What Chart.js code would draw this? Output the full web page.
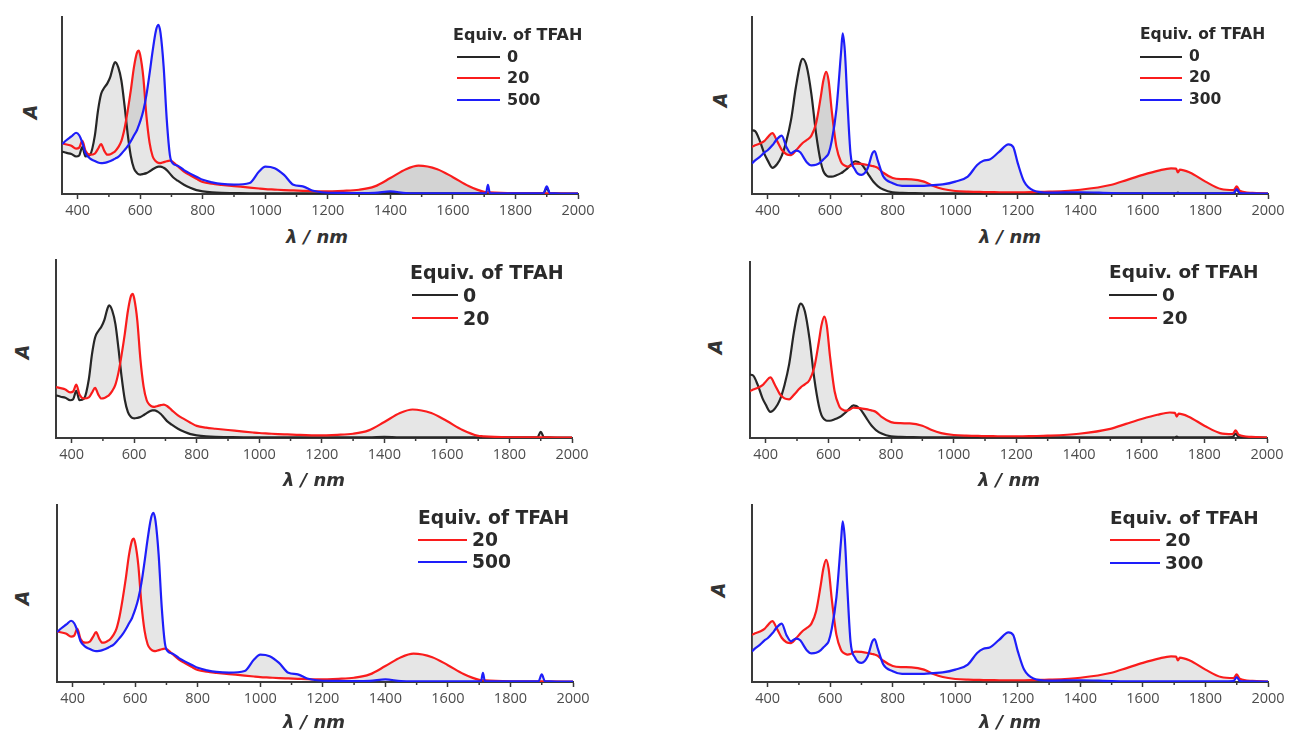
<!DOCTYPE html>
<html><head><meta charset="utf-8">
<script src="https://cdn.jsdelivr.net/npm/chart.js@4.4.1/dist/chart.umd.min.js"></script>
<style>
html,body{margin:0;padding:0;background:#fff;}
body{width:1291px;height:733px;overflow:hidden;position:relative;}
canvas{position:absolute;}
.t{position:absolute;white-space:nowrap;line-height:1;color:#2a2a2a;}
.leg{font-family:"DejaVu Sans",sans-serif;font-weight:bold;transform:translateY(-50%);}
.ax{font-family:"DejaVu Sans",sans-serif;font-weight:bold;font-style:italic;color:#333;}
.ln{position:absolute;height:2px;}
</style></head><body>
<script>
// ---------------- data ----------------
const wlA = [350,365,380,395,405,415,425,440,455,465,475,485,495,505,515,520,530,540,550,560,570,580,590,595,600,610,620,630,640,650,658,665,675,685,695,705,720,740,760,780,800,830,860,900,950,980,1000,1030,1060,1090,1120,1150,1180,1250,1300,1350,1400,1450,1490,1550,1600,1650,1700,1706,1712,1718,1800,1890,1900,1910,2000];
const absA_0 = [.240,.232,.226,.212,.218,.265,.212,.222,.33,.47,.565,.60,.625,.665,.73,.745,.715,.64,.50,.34,.215,.145,.118,.112,.11,.113,.118,.128,.14,.15,.155,.155,.148,.135,.115,.095,.075,.052,.035,.022,.015,.009,.006,.005,.004,.004,.004,.004,.004,.004,.004,.004,.004,.004,.004,.004,.006,.004,.004,.004,.004,.004,.004,.004,.006,.004,.004,.005,.035,.005,.002];
const absA_20 = [.286,.28,.272,.256,.262,.30,.245,.222,.228,.255,.282,.245,.222,.225,.235,.242,.265,.30,.37,.47,.585,.715,.80,.81,.785,.66,.44,.29,.212,.185,.176,.175,.18,.185,.188,.18,.157,.127,.106,.086,.068,.058,.052,.045,.036,.031,.028,.025,.022,.02,.018,.016,.015,.018,.024,.043,.09,.14,.16,.14,.095,.045,.012,.011,.01,.009,.004,.003,.003,.003,.002];
const absA_500 = [.282,.305,.325,.346,.332,.29,.232,.20,.186,.178,.174,.176,.18,.186,.195,.20,.21,.228,.248,.27,.298,.33,.362,.385,.41,.47,.56,.68,.81,.92,.955,.91,.72,.42,.22,.172,.16,.135,.115,.098,.08,.066,.057,.053,.062,.127,.155,.146,.108,.052,.043,.02,.01,.006,.005,.006,.015,.005,.004,.004,.004,.004,.004,.005,.052,.005,.003,.005,.043,.005,.002];

const wlB = [350,360,375,390,400,415,430,445,460,475,490,505,512,525,540,555,570,578,587,595,605,620,635,640,647,655,665,680,700,720,735,742,752,770,800,830,860,900,930,960,1000,1040,1070,1090,1110,1140,1170,1185,1200,1220,1250,1300,1400,1500,1550,1600,1650,1690,1706,1712,1718,1750,1800,1850,1890,1900,1910,1950,2000];
const absB_0 = [.36,.355,.30,.225,.19,.148,.168,.215,.30,.42,.60,.74,.764,.72,.563,.34,.18,.13,.106,.098,.098,.106,.118,.123,.133,.145,.163,.185,.168,.117,.077,.062,.045,.025,.009,.006,.005,.004,.004,.004,.004,.004,.004,.004,.004,.004,.004,.004,.004,.004,.004,.004,.004,.004,.004,.004,.004,.004,.004,.008,.004,.004,.004,.004,.005,.025,.005,.003,.002];
const absB_20 = [.266,.275,.285,.30,.32,.344,.30,.25,.225,.22,.245,.275,.288,.305,.33,.40,.55,.64,.69,.64,.47,.266,.18,.168,.16,.155,.158,.172,.17,.164,.158,.155,.148,.12,.09,.084,.083,.07,.045,.028,.017,.013,.012,.011,.011,.01,.01,.01,.01,.01,.011,.013,.024,.052,.08,.108,.132,.145,.143,.122,.138,.121,.07,.028,.022,.043,.018,.006,.002];
const absB_300 = [.173,.19,.21,.235,.247,.275,.31,.33,.266,.23,.245,.235,.215,.18,.162,.165,.18,.195,.21,.23,.30,.48,.805,.907,.805,.526,.23,.136,.108,.145,.23,.243,.19,.0985,.061,.046,.046,.046,.05,.054,.07,.0985,.164,.188,.195,.238,.28,.266,.173,.07,.02,.008,.01,.005,.004,.004,.004,.004,.004,.004,.004,.004,.004,.004,.005,.028,.005,.003,.002];

const xMajorTicks = [400,600,800,1000,1200,1400,1600,1800,2000];
const xMinorTicks = [500,700,900,1100,1300,1500,1700,1900];
const legendTitle = 'Equiv. of TFAH';
const xTitle = 'λ / nm';
const yTitle = 'A';

// ---------------- layout ----------------
const seriesColor = {'0':'rgb(38,38,38)','20':'rgb(250,28,28)','500':'rgb(30,30,250)','300':'rgb(30,30,250)'};
const axisColor = '#3a3a3a';
const panels = [
  {wl:wlA, series:[['0',absA_0],['20',absA_20],['500',absA_500]], area:{l:62,t:17,r:578,b:194},
   yl:[30,112], xl:[317,237], leg:{x:453,ty:35,rows:[56.5,78,99.5],lx1:457,lx2:500,tx:507,fs:16}},
  {wl:wlB, series:[['0',absB_0],['20',absB_20],['300',absB_300]], area:{l:751.5,t:17,r:1267.5,b:194},
   yl:[720,100], xl:[1010,237], leg:{x:1140,ty:35,rows:[56.5,78,99.5],lx1:1140,lx2:1182,tx:1189,fs:15.5}},
  {wl:wlA, series:[['0',absA_0],['20',absA_20]], area:{l:56,t:260,r:572,b:438},
   yl:[22,352], xl:[314,480], leg:{x:410,ty:272,rows:[295,318],lx1:412,lx2:458,tx:463,fs:19}},
  {wl:wlB, series:[['0',absB_0],['20',absB_20]], area:{l:750,t:262,r:1267,b:438},
   yl:[715,347], xl:[1009,480], leg:{x:1109,ty:272,rows:[295,318],lx1:1109,lx2:1157,tx:1162,fs:18.5}},
  {wl:wlA, series:[['20',absA_20],['500',absA_500]], area:{l:56.7,t:505,r:572.7,b:682},
   yl:[22,598], xl:[314,722], leg:{x:418,ty:518,rows:[540,562],lx1:418,lx2:467,tx:472,fs:18.7}},
  {wl:wlB, series:[['20',absB_20],['300',absB_300]], area:{l:752,t:505,r:1268,b:682},
   yl:[718,590], xl:[1010,722], leg:{x:1110,ty:518,rows:[540,563],lx1:1110,lx2:1160,tx:1165,fs:18.4}}
];

const minorTickPlugin = {
  id:'minorTicks',
  afterDraw(chart){
    const sx = chart.scales.x, ctx = chart.ctx, b = chart.chartArea.bottom;
    ctx.save(); ctx.strokeStyle = axisColor; ctx.lineWidth = 1.5;
    xMinorTicks.forEach(v => { const px = sx.getPixelForValue(v); ctx.beginPath(); ctx.moveTo(px,b); ctx.lineTo(px,b+3); ctx.stroke(); });
    ctx.restore();
  }
};

function addText(cls, txt, css){
  const d = document.createElement('div'); d.className = 't ' + cls; d.textContent = txt;
  Object.assign(d.style, css); document.body.appendChild(d); return d;
}

const PADL = 10, PADR = 26, PADT = 6, XAXH = 30, PADB = 2;
panels.forEach(p => {
  const w = p.area.r - p.area.l, h = p.area.b - p.area.t;
  const cv = document.createElement('canvas');
  const cw = w + PADL + PADR, ch = h + PADT + XAXH + PADB;
  cv.width = cw; cv.height = ch;
  cv.style.width = cw + 'px'; cv.style.height = ch + 'px';
  cv.style.left = (p.area.l - PADL) + 'px'; cv.style.top = (p.area.t - PADT) + 'px';
  document.body.appendChild(cv);
  const datasets = p.series.map((s, i) => ({
    label: s[0],
    data: p.wl.map((x, j) => ({x, y: s[1][j]})),
    borderColor: seriesColor[s[0]],
    borderWidth: 2.2,
    pointRadius: 0,
    cubicInterpolationMode: 'monotone',
    fill: i === 0 ? false : i - 1,
    backgroundColor: 'rgba(150,150,150,0.24)',
    order: p.series.length - i
  }));
  new Chart(cv, {
    type: 'line',
    data: {datasets},
    plugins: [minorTickPlugin],
    options: {
      responsive: false, animation: false, devicePixelRatio: 1,
      layout: {padding: {left: PADL, right: PADR, top: PADT, bottom: PADB}},
      plugins: {legend: {display: false}, tooltip: {enabled: false}, filler: {drawTime: 'beforeDatasetsDraw'}},
      scales: {
        x: {type: 'linear', min: 350, max: 2000,
            afterBuildTicks: s => { s.ticks = xMajorTicks.map(v => ({value: v})); },
            afterFit: s => { s.height = XAXH; },
            ticks: {autoSkip: false, maxRotation: 0, padding: 3, color: '#4d4d4d', font: {family: 'Open Sans', size: 14.5},
                    callback: v => String(v)},
            grid: {drawOnChartArea: false, tickLength: 5, tickWidth: 1.5, color: axisColor},
            border: {display: true, color: axisColor, width: 2}},
        y: {min: 0, max: 1,
            afterFit: s => { s.width = 0; },
            ticks: {display: false},
            grid: {display: false, drawTicks: false},
            border: {display: true, color: axisColor, width: 2}}
      }
    }
  });
  // axis titles
  addText('ax', xTitle, {left: p.xl[0] + 'px', top: p.xl[1] + 'px', fontSize: '18px', transform: 'translate(-50%,-50%)'});
  addText('ax', yTitle, {left: p.yl[0] + 'px', top: p.yl[1] + 'px', fontSize: '19px', transform: 'translate(-50%,-50%) rotate(-90deg)'});
  // legend
  const L = p.leg;
  addText('leg', legendTitle, {left: L.x + 'px', top: L.ty + 'px', fontSize: L.fs + 'px'});
  p.series.forEach((s, i) => {
    const ln = document.createElement('div'); ln.className = 'ln';
    Object.assign(ln.style, {left: L.lx1 + 'px', width: (L.lx2 - L.lx1) + 'px', top: (L.rows[i] - 1) + 'px', background: seriesColor[s[0]]});
    document.body.appendChild(ln);
    addText('leg', s[0], {left: L.tx + 'px', top: L.rows[i] + 'px', fontSize: L.fs + 'px'});
  });
});
</script>
</body></html>
